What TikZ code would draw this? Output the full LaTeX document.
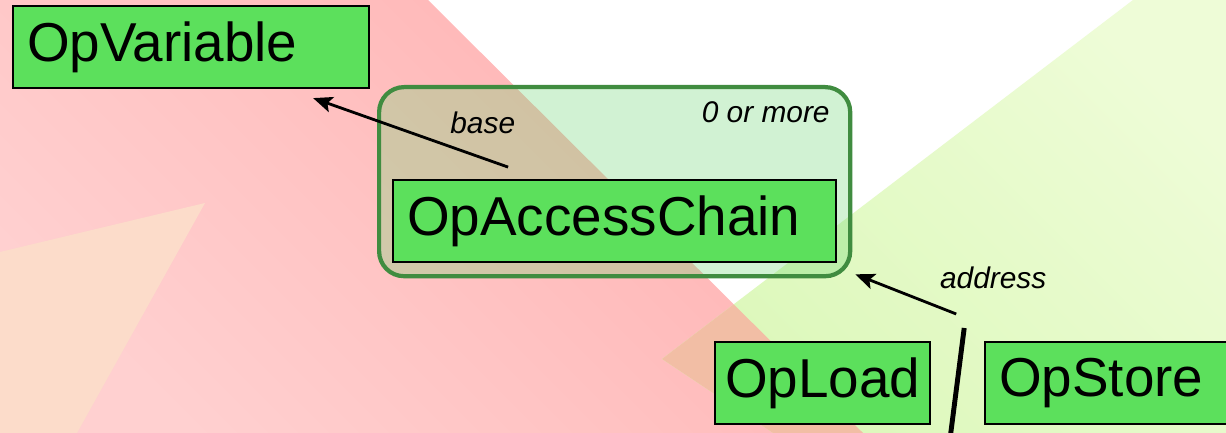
\documentclass[tikz,border=0pt]{standalone}
\usepackage{fontspec}
\newfontfamily\opfont{Liberation Sans}
\usetikzlibrary{positioning,arrows.meta,fit,backgrounds}
\definecolor{opgreen}{RGB}{92,224,92}
\definecolor{groupline}{RGB}{64,140,64}
\definecolor{groupfill}{RGB}{105,215,112}
\definecolor{redtop}{RGB}{255,178,178}
\definecolor{redlow}{RGB}{255,208,208}
\definecolor{greentop}{RGB}{238,252,215}
\definecolor{greenlow}{RGB}{220,248,186}
\definecolor{peach}{RGB}{252,220,202}
\definecolor{overlap}{RGB}{242,190,165}

\begin{document}
\begin{tikzpicture}[
    opnode/.style={draw=black,line width=0.6pt,fill=opgreen,minimum height=0.82cm,
      inner xsep=0.14cm,font=\opfont\fontsize{15.6}{18}\selectfont},
    lbl/.style={font=\opfont\itshape\fontsize{8.5}{10}\selectfont,inner sep=0.1cm},
    link/.style={line width=0.8pt,-{Stealth[length=5.5pt,width=4.5pt,inset=1.2pt]}},
    groupbox/.style={draw=groupline,line width=1.2pt,fill=groupfill,fill opacity=0.3,
      rounded corners=0.25cm,inner sep=0.13cm}]
  \useasboundingbox (0,0) rectangle (12.26,4.33);
  \clip (0,0) rectangle (12.26,4.33);

  % backdrop
  \begin{scope}[on background layer]
    \fill[white] (0,0) rectangle (12.26,4.33);
    \shade[top color=redtop,bottom color=redlow,shading angle=-45]
      (0,4.33) -- (4.28,4.33) -- (8.63,0) -- (0,0) -- cycle;
    \fill[peach] (0,1.81) -- (2.05,2.30) -- (0.77,0) -- (0,0) -- cycle;
    \shade[top color=greentop,bottom color=greenlow,shading angle=-45]
      (11.33,4.33) -- (6.62,0.74) -- (7.73,0) -- (12.26,0) -- (12.26,4.33) -- cycle;
    \begin{scope}
      \clip (0,4.33) -- (4.28,4.33) -- (8.63,0) -- (0,0) -- cycle;
      \fill[overlap] (11.33,4.33) -- (6.62,0.74) -- (7.73,0) -- (12.26,0) -- (12.26,4.33) -- cycle;
    \end{scope}
  \end{scope}

  % instructions
  \node[opnode,anchor=north west,text width=3.28cm,align=left] (var) at (0.12,4.28) {OpVariable};
  \node[opnode,text width=4.15cm,align=left,below right=0.90cm and 0.22cm of var.south east] (chain) {OpAccessChain};
  \node[opnode,anchor=north west,inner xsep=0.1cm] (load) at (7.14,0.92) {OpLoad};
  \node[opnode,text width=2.3cm,align=left,right=0.53cm of load] (store) {OpStore};

  % access chain group
  \coordinate (grouptop) at ([yshift=0.79cm]chain.north);
  \begin{scope}[on background layer]
    \node[groupbox,fit=(chain)(grouptop)] (group) {};
  \end{scope}
  \node[lbl,anchor=north east] (countlbl) at ([xshift=-0.12cm,yshift=-0.06cm]group.north east) {0 or more};

  % operands
  \draw[link] ([xshift=1.16cm,yshift=0.12cm]chain.north west) -- ([xshift=-0.57cm,yshift=-0.09cm]var.south east)
    node[lbl,pos=0.13,above=0.13cm] (baselbl) {base};
  \draw[link] ([xshift=-0.28cm,yshift=0.27cm]store.north west) -- ([xshift=0.03cm,yshift=0.04cm]group.south east)
    node[lbl,at start,above=0.14cm,xshift=0.37cm] (addrlbl) {address};
  \coordinate (fork) at ([xshift=-0.20cm,yshift=0.13cm]store.north west);
  \coordinate (forkend) at ([xshift=-0.36cm,yshift=-1.12cm]store.north west);
  \draw[line width=1.4pt] (fork) -- (forkend);
\end{tikzpicture}
\end{document}
